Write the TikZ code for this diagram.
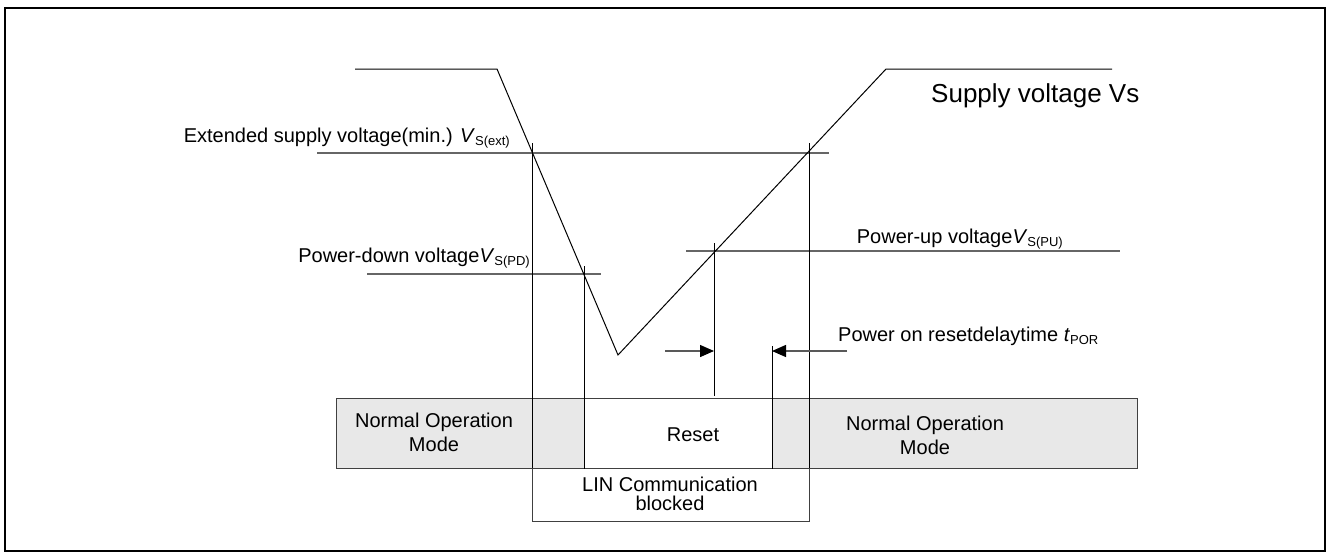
\documentclass[tikz,border=0pt]{standalone}
\usepackage{fontspec}
\setmainfont{Liberation Sans}
\usepackage{xcolor}
\usetikzlibrary{arrows.meta}
\definecolor{boxgray}{RGB}{232,232,232}
\newcommand{\lowsub}[1]{\raisebox{-0.3ex}{\fontsize{13}{13}\selectfont #1}}

\begin{document}
\begin{tikzpicture}[x=1pt, y=-1pt,
    curve/.style={black, line width=1pt},
    level/.style={draw=black!60, line width=1.6pt},
    cutline/.style={black, line width=1pt},
    modebox/.style={draw=black!75, line width=1.2pt, anchor=north west, inner sep=0pt},
    lbl/.style={font=\fontsize{20}{24}\selectfont, inner sep=0pt},
    tip/.style={-{Triangle[length=14pt, width=12pt, color=black]}, draw=black!65, line width=1.4pt}]
    \useasboundingbox (0,0) rectangle (1329,557);
    \draw[line width=1.5pt] (5,8) rectangle (1325,551);

    \coordinate (s0) at (355,69);
    \coordinate (s1) at (497,69);
    \coordinate (smin) at (618,355);
    \coordinate (s2) at (886,69);
    \coordinate (s3) at (1112,69);

    \coordinate (extL) at (317,153);
    \coordinate (extR) at (829,153);
    \coordinate (pdL) at (367,274);
    \coordinate (pdR) at (601,274);
    \coordinate (puL) at (686,251);
    \coordinate (puR) at (1120,251);

    \coordinate (t1) at (532,143);
    \coordinate (t2) at (584,266);
    \coordinate (t3) at (714,243);
    \coordinate (t4) at (772,346);
    \coordinate (t5) at (809,143);

    \node[modebox, fill=boxgray, minimum width=248pt, minimum height=70pt] (normL) at (336,398) {};
    \node[modebox, fill=white, minimum width=188pt, minimum height=70pt] (reset) at (584,398) {};
    \node[modebox, fill=boxgray, minimum width=365pt, minimum height=70pt] (normR) at (772,398) {};
    \node[modebox, minimum width=277pt, minimum height=53pt] (lin) at (532,468) {};

    \draw[level] (extL) -- (extR);
    \draw[level] (pdL) -- (pdR);
    \draw[level] (puL) -- (puR);
    \draw[curve] (s0) -- (s1) -- (smin) -- (s2) -- (s3);

    \draw[cutline] (t1) -- (t1 |- lin.north);
    \draw[cutline] (t2) -- (t2 |- reset.south);
    \draw[cutline] (t3) -- ([yshift=2pt]t3 |- reset.north);
    \draw[cutline] (t4) -- (t4 |- reset.south);
    \draw[cutline] (t5) -- (t5 |- lin.north);

    \coordinate (porA) at (665,351);
    \coordinate (porB) at (847,351);
    \draw[tip] (porA) -- (porA -| t3);
    \draw[tip] (porB) -- (porB -| t4);

    \node[lbl, align=center] (normLtxt) at (434,432) {Normal Operation\\Mode};
    \node[lbl] (resettxt) at (693,435) {Reset};
    \node[lbl, align=center] (normRtxt) at (925,435) {Normal Operation\\Mode};
    \node[lbl, align=center, font=\fontsize{20}{19}\selectfont] (lintxt) at (670,494) {LIN Communication\\blocked};

    \node[lbl, anchor=base east] (extlbl) at (510,142) {Extended supply voltage(min.) \textit{V}\lowsub{S(ext)}};
    \node[lbl, anchor=base east] (pdlbl) at (530,262) {Power-down voltage\textit{V}\lowsub{S(PD)}};
    \node[lbl, anchor=base east] (pulbl) at (1063,243) {Power-up voltage\textit{V}\lowsub{S(PU)}};
    \node[lbl, anchor=base west] (porlbl) at (838,341) {Power on resetdelaytime \textit{t}\lowsub{POR}};
    \node[lbl, anchor=base west, font=\fontsize{26}{30}\selectfont] (supplbl) at (931,102) {Supply voltage Vs};
\end{tikzpicture}
\end{document}
